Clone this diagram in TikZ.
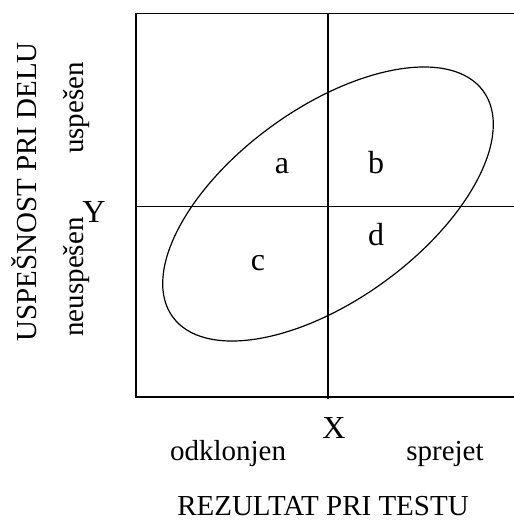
\documentclass[tikz,border=0pt]{standalone}
\usepackage{fontspec}
\setmainfont{Liberation Serif}
\usetikzlibrary{shapes.geometric}
\tikzset{
  grid/.style={line width=1.6pt,draw=black},
  oval/.style={draw,ellipse,line width=1.2pt,minimum width=384pt,minimum height=192pt,inner sep=0pt},
  lbl/.style={font=\fontsize{29}{34}\selectfont,inner sep=0pt,anchor=base},
  big/.style={lbl,font=\fontsize{32}{38}\selectfont},
  side/.style={lbl,rotate=90},
}
\begin{document}
\begin{tikzpicture}[x=1pt,y=-1pt]
  \useasboundingbox (0,0) rectangle (514,531);
  % frame, open on the right
  \coordinate (tl) at (136,13.5);
  \coordinate (bl) at (136,397);
  \coordinate (tr) at (514,13.5);
  \coordinate (br) at (514,397);
  \coordinate (xt) at (328,13.5);
  \coordinate (xb) at (328,399);
  \coordinate (yl) at (136,206.5);
  \coordinate (yr) at (514,206.5);
  \draw[grid] (tr) -- (tl) -- (bl) -- (br);
  \draw[grid] (xt) -- (xb);
  \draw[grid] (yl) -- (yr);
  \node[oval,rotate=36] (ell) at (328,204) {};
  % cells
  \node[big] (a) at (282,173) {a};
  \node[big] (b) at (376,173) {b};
  \node[big] (c) at (258,270) {c};
  \node[big] (d) at (376,245) {d};
  % axes
  \node[big] (X) at (334,438) {X};
  \node[big] (Y) at (94,222) {Y};
  \node[lbl] (odk) at (228,460) {odklonjen};
  \node[lbl] (spr) at (445,460) {sprejet};
  \node[lbl] (rez) at (323,515) {REZULTAT PRI TESTU};
  \node[side] (usp) at (83,108) {uspešen};
  \node[side] (neu) at (83,277) {neuspešen};
  \node[side] (del) at (37,192) {USPEŠNOST PRI DELU};
\end{tikzpicture}
\end{document}
